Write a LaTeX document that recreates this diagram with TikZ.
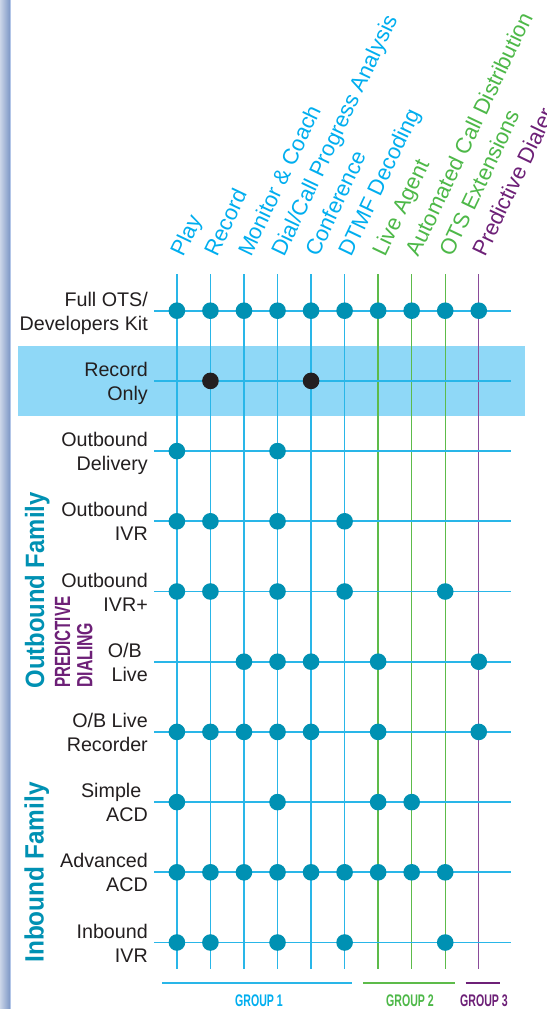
\documentclass[tikz,border=0pt]{standalone}
\usepackage{fontspec}
\setmainfont{Liberation Sans}
\usepackage{graphicx}
\definecolor{cyanL}{HTML}{29B6E8}
\definecolor{greenL}{HTML}{5DBB4A}
\definecolor{purpL}{HTML}{8A4B9A}
\definecolor{cyanT}{HTML}{00AEEF}
\definecolor{greenT}{HTML}{4DB848}
\definecolor{purpT}{HTML}{6D2077}
\definecolor{dotteal}{HTML}{0091B3}
\definecolor{dotblack}{HTML}{231F20}
\definecolor{bandblue}{HTML}{8FD8F7}
\definecolor{labelgray}{HTML}{231F20}
\definecolor{barL}{HTML}{CBD5E8}
\definecolor{barR}{HTML}{7D97C6}
\definecolor{barE}{HTML}{B3C6E8}
\begin{document}
\begin{tikzpicture}[x=1pt,y=-1pt,
  hdr/.style={rotate=64.5,anchor=base west,inner sep=0pt,font=\fontsize{22}{26}\selectfont},
  lbl/.style={anchor=base east,inner sep=0pt,text=labelgray,font=\fontsize{19.7}{24}\selectfont},
  fam/.style={rotate=90,anchor=base,inner sep=0pt,text=dotteal,font=\bfseries\fontsize{26.5}{30}\selectfont},
  pdial/.style={rotate=90,anchor=base west,inner sep=0pt,text=purpT,font=\bfseries\fontsize{22}{26}\selectfont},
  grp/.style={anchor=base,inner sep=0pt,font=\bfseries\fontsize{16.8}{20}\selectfont},
  dot/.style={circle,inner sep=0pt,minimum size=16.6pt,draw=none,fill=dotteal},
  bdot/.style={dot,fill=dotblack},
  vline/.style={line width=1.4pt},
  hline/.style={cyanL,line width=1.9pt},
  gline/.style={line width=2.2pt}]
\clip (0,0) rectangle (546,1009);
\fill[white] (0,0) rectangle (546,1009);
% left bar
\shade[left color=barL,right color=barR] (0,0) rectangle (10,1009);
\draw[barE,line width=1pt] (10.5,0) -- (10.5,1009);
% highlighted band
\fill[bandblue] (18,346) rectangle (525,415.7);
% vertical lines
\foreach \j/\c in {0/cyanL,1/cyanL,2/cyanL,3/cyanL,4/cyanL,5/cyanL,6/greenL,7/greenL,8/greenL,9/purpL}{
  \pgfmathsetmacro\xx{176.9+33.54*\j}
  \coordinate (ctop\j) at (\xx,274);
  \coordinate (cbot\j) at (\xx,969);
  \draw[vline,\c] (ctop\j) -- (cbot\j);
}
% horizontal lines
\foreach \i in {0,...,9}{
  \pgfmathsetmacro\yy{310.7+70.2*\i}
  \coordinate (rl\i) at (154,\yy);
  \coordinate (rr\i) at (511,\yy);
  \draw[hline] (rl\i) -- (rr\i);
}
% dots
\foreach \i/\cols in {0/{0,1,2,3,4,5,6,7,8,9},2/{0,3},3/{0,1,3,5},4/{0,1,3,5,8},5/{2,3,4,6,9},6/{0,1,2,3,4,6,9},7/{0,3,6,7},8/{0,1,2,3,4,5,6,7,8},9/{0,1,3,5,8}}{
  \foreach \j in \cols {
    \pgfmathsetmacro\xx{176.9+33.54*\j}
    \pgfmathsetmacro\yy{310.7+70.2*\i}
    \node[dot] (d\i-\j) at (\xx,\yy) {};
  }
}
\node[bdot] (d1-1) at (210.44,380.9) {};
\node[bdot] (d1-4) at (311.06,380.9) {};
% column headers
\node[hdr,text=cyanT] (h0) at (183.9,258) {Play};
\node[hdr,text=cyanT] (h1) at (217.4,258) {Record};
\node[hdr,text=cyanT] (h2) at (251.0,258) {Monitor \& Coach};
\node[hdr,text=cyanT] (h3) at (284.5,258) {Dial/Call Progress Analysis};
\node[hdr,text=cyanT] (h4) at (318.1,258) {Conference};
\node[hdr,text=cyanT] (h5) at (351.6,258) {DTMF Decoding};
\node[hdr,text=greenT] (h6) at (385.1,258) {Live Agent};
\node[hdr,text=greenT] (h7) at (418.7,258) {Automated Call Distribution};
\node[hdr,text=greenT] (h8) at (452.2,258) {OTS Extensions};
\node[hdr,text=purpT] (h9) at (485.8,258) {Predictive Dialer};
% row labels
\node[lbl] (r0a) at (148,306.2) {Full OTS/};
\node[lbl] (r0b) at (148,330.2) {Developers Kit};
\node[lbl] (r1a) at (148,376.4) {Record};
\node[lbl] (r1b) at (148,400.4) {Only};
\node[lbl] (r2a) at (148,446.6) {Outbound};
\node[lbl] (r2b) at (148,470.6) {Delivery};
\node[lbl] (r3a) at (148,516.8) {Outbound};
\node[lbl] (r3b) at (148,540.8) {IVR};
\node[lbl] (r4a) at (148,587.0) {Outbound};
\node[lbl] (r4b) at (148,611.0) {IVR+};
\node[lbl] (r5a) at (142,657.2) {O/B};
\node[lbl] (r5b) at (148,681.2) {Live};
\node[lbl] (r6a) at (148,727.4) {O/B Live};
\node[lbl] (r6b) at (148,751.4) {Recorder};
\node[lbl] (r7a) at (141.5,797.6) {Simple};
\node[lbl] (r7b) at (148,821.6) {ACD};
\node[lbl] (r8a) at (148,867.8) {Advanced};
\node[lbl] (r8b) at (148,891.8) {ACD};
\node[lbl] (r9a) at (148,938.0) {Inbound};
\node[lbl] (r9b) at (148,962.0) {IVR};
% family labels
\node[fam] (outfam) at (44,590.5) {\scalebox{0.9}[1]{Outbound Family}};
\node[fam] (infam) at (43.5,872.5) {\scalebox{0.92}[1]{Inbound Family}};
\node[pdial] (pd1) at (70,688) {\scalebox{0.69}[1]{PREDICTIVE}};
\node[pdial] (pd2) at (92.3,688) {\scalebox{0.72}[1]{DIALING}};
% group bars
\coordinate (g1a) at (162,982.7); \coordinate (g1b) at (352,982.7);
\coordinate (g2a) at (363,982.7); \coordinate (g2b) at (455,982.7);
\coordinate (g3a) at (465.5,982.7); \coordinate (g3b) at (500,982.7);
\draw[gline,cyanL] (g1a) -- (g1b);
\draw[gline,greenL] (g2a) -- (g2b);
\draw[gline,purpT] (g3a) -- (g3b);
\node[grp,text=cyanT] (gl1) at (259,1006.5) {\scalebox{0.63}[1]{GROUP 1}};
\node[grp,text=greenT] (gl2) at (410,1006.5) {\scalebox{0.63}[1]{GROUP 2}};
\node[grp,text=purpT] (gl3) at (484,1006.5) {\scalebox{0.63}[1]{GROUP 3}};
\end{tikzpicture}
\end{document}
